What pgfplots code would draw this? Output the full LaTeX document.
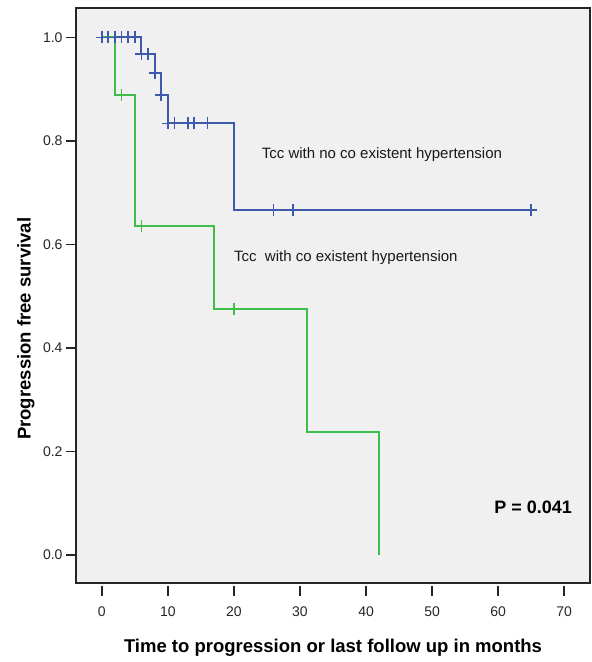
\documentclass[border=0pt]{standalone}
\usepackage{fontspec}
\setmainfont{Liberation Sans}
\usepackage{pgfplots}
\pgfplotsset{compat=1.18}

\definecolor{kmblue}{RGB}{62,88,172}
\definecolor{kmgreen}{RGB}{62,190,74}
\definecolor{panel}{RGB}{240,240,240}

\begin{document}
\begin{tikzpicture}
\begin{axis}[
    scale only axis,
    width=514pt, height=575pt,
    xmin=-3.9, xmax=73.9,
    ymin=-0.054, ymax=1.057,
    xtick={0,10,20,30,40,50,60,70},
    ytick={0,0.2,0.4,0.6,0.8,1},
    yticklabel style={/pgf/number format/.cd,fixed,fixed zerofill,precision=1},
    /pgf/number format/assume math mode=true,
    tick align=outside,
    tick pos=left,
    major tick length=10pt,
    tick style={black!85, line width=1.8pt},
    xtick style={yshift=-3pt},
    ticklabel style={font=\fontsize{14}{16}\selectfont, text=black!85},
    xticklabel style={yshift=-10pt},
    axis background/.style={fill=panel},
    axis line style={black!85, line width=1.6pt},
    every axis x label/.style={at={(axis description cs:0.5,0)}, anchor=center, yshift=-65pt},
    every axis y label/.style={at={(axis description cs:0,0.442)}, anchor=center, xshift=-50pt, rotate=90},
    label style={font=\fontsize{18.5}{21}\selectfont\bfseries},
    xlabel={Time to progression or last follow up in months},
    ylabel={Progression free survival},
    clip=false,
]
% without hypertension
\addplot[const plot, kmblue, line width=2pt] coordinates {
    (0,1) (6,0.9677) (8,0.9319) (9,0.8895) (10,0.8339) (20,0.6671) (65,0.6671)
};
\addplot[only marks, mark=+, mark size=6pt, kmblue, line width=1.8pt] coordinates {
    (0,1) (1,1) (2,1) (3,1) (4,1) (5,1)
    (6,0.9677) (7,0.9677) (8,0.9319) (9,0.8895)
    (10,0.8339) (11,0.8339) (13,0.8339) (14,0.8339) (16,0.8339)
    (26,0.6671) (29,0.6671) (65,0.6671)
};
% with hypertension
\addplot[const plot, kmgreen, line width=2pt] coordinates {
    (0,1) (2,0.8889) (5,0.6349) (17,0.4762) (31,0.2381) (42,0)
};
\addplot[only marks, mark=+, mark size=6pt, kmgreen, line width=1.8pt] coordinates {
    (3,0.8889) (6,0.6349) (20,0.4762)
};
\node[anchor=west, inner sep=0pt, font=\fontsize{15}{17}\selectfont, text=black!90]
    at (axis cs:24.2,0.774) {Tcc with no co existent hypertension};
\node[anchor=west, inner sep=0pt, font=\fontsize{15}{17}\selectfont, text=black!90]
    at (axis cs:20,0.574) {Tcc\ \ with co existent hypertension};
\node[anchor=west, inner sep=0pt, font=\fontsize{18}{21}\selectfont\bfseries]
    at (axis cs:59.4,0.093) {P = 0.041};
\coordinate (bl) at (rel axis cs:0,0);
\coordinate (tr) at (rel axis cs:1,1);
\end{axis}
\pgfresetboundingbox
\path ([shift={(-76pt,-79pt)}]bl) rectangle ([shift={(2pt,8pt)}]tr);
\end{tikzpicture}
\end{document}
